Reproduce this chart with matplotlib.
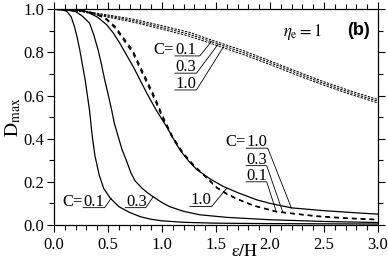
import numpy as np
import matplotlib
matplotlib.use("Agg")
import matplotlib.pyplot as plt
from matplotlib.ticker import MultipleLocator

plt.rcParams["font.family"] = ["Liberation Serif", "DejaVu Serif"]
plt.rcParams["mathtext.fontset"] = "stix"

# solid curves (lower family)
x_s01 = [0, 0.08, 0.12, 0.16, 0.19, 0.215, 0.24, 0.265, 0.29, 0.31, 0.33, 0.355, 0.38,
         0.42, 0.46, 0.52, 0.6, 0.7, 0.8, 0.9, 1.0, 1.2, 1.5, 2.0, 2.5, 3.0]
y_s01 = [1.0, 0.998, 0.99, 0.965, 0.92, 0.87, 0.81, 0.74, 0.67, 0.6, 0.53, 0.41, 0.32,
         0.23, 0.17, 0.125, 0.085, 0.058, 0.038, 0.026, 0.019, 0.012, 0.008, 0.006, 0.005, 0.004]

x_s03 = [0, 0.1, 0.2, 0.26, 0.33, 0.37, 0.41, 0.44, 0.47, 0.5, 0.534, 0.56, 0.595, 0.63,
         0.67, 0.71, 0.75, 0.82, 0.87, 0.92, 1.0, 1.07, 1.2, 1.35, 1.6, 2.0, 2.5, 3.0]
y_s03 = [1.0, 0.999, 0.99, 0.97, 0.936, 0.88, 0.81, 0.745, 0.673, 0.61, 0.534, 0.47, 0.41, 0.35,
         0.3, 0.245, 0.205, 0.168, 0.148, 0.13, 0.104, 0.085, 0.063, 0.047, 0.035, 0.024, 0.016, 0.011]

x_s10 = [0, 0.1, 0.2, 0.3, 0.4, 0.49, 0.55, 0.61, 0.67, 0.73, 0.8, 0.86, 0.95, 1.0, 1.05,
         1.1, 1.17, 1.25, 1.32, 1.45, 1.57, 1.7, 1.88, 2.0, 2.2, 2.5, 2.8, 3.0]
y_s10 = [1.0, 1.0, 0.998, 0.99, 0.965, 0.928, 0.89, 0.843, 0.79, 0.738, 0.67, 0.611, 0.53, 0.49, 0.45,
         0.405, 0.345, 0.295, 0.258, 0.212, 0.178, 0.15, 0.116, 0.1, 0.079, 0.066, 0.056, 0.05]

# dashed curves (lower family), C = 0.1, 0.3, 1.0
x_d = [0, 0.2, 0.3, 0.4, 0.49, 0.57, 0.64, 0.73, 0.8, 0.89, 0.95, 1.0, 1.1, 1.2, 1.3,
       1.43, 1.51, 1.61, 1.71, 1.85, 2.06, 2.2, 2.43, 2.7, 3.0]
y_d01 = [1.0, 0.998, 0.99, 0.975, 0.95, 0.91, 0.86, 0.797, 0.72, 0.626, 0.56, 0.5, 0.4, 0.325, 0.27,
         0.209, 0.17, 0.139, 0.116, 0.088, 0.06, 0.052, 0.039, 0.03, 0.023]
y_d03 = [1.0, 0.998, 0.991, 0.977, 0.953, 0.915, 0.866, 0.804, 0.728, 0.634, 0.568, 0.507, 0.405, 0.329, 0.273,
         0.211, 0.172, 0.141, 0.117, 0.089, 0.061, 0.053, 0.04, 0.031, 0.024]
y_d10 = [1.0, 0.999, 0.992, 0.979, 0.956, 0.92, 0.872, 0.811, 0.736, 0.642, 0.576, 0.514, 0.41, 0.333, 0.276,
         0.213, 0.174, 0.143, 0.119, 0.091, 0.063, 0.055, 0.042, 0.033, 0.026]

# upper dashed curves (eta_e = 1)
x_t = [0, 0.25, 0.5, 0.75, 1.0, 1.25, 1.5, 1.75, 2.0, 2.25, 2.5, 2.75, 3.0]
y_t01 = [1.0, 0.994, 0.974, 0.953, 0.924, 0.894, 0.851, 0.809, 0.761, 0.712, 0.664, 0.621, 0.582]
y_t03 = [1.0, 0.992, 0.969, 0.946, 0.916, 0.885, 0.843, 0.8, 0.753, 0.704, 0.656, 0.613, 0.574]
y_t10 = [1.0, 0.99, 0.964, 0.939, 0.908, 0.876, 0.834, 0.791, 0.744, 0.695, 0.648, 0.605, 0.566]

# labels: (prefix, number, underline x0, x1, y, leader target x, y)
labels = [
    ("C=", "0.1", 1.12, 1.35, 0.784, 1.46, 0.852),
    ("", "0.3", 1.12, 1.32, 0.704, 1.52, 0.838),
    ("", "1.0", 1.12, 1.32, 0.626, 1.57, 0.826),
    ("C=", "0.1", 0.27, 0.47, 0.080, 0.53, 0.124),
    ("", "0.3", 0.66, 0.85, 0.080, 0.92, 0.131),
    ("", "1.0", 1.26, 1.46, 0.085, 1.60, 0.170),
    ("C=", "1.0", 1.78, 1.98, 0.356, 2.20, 0.077),
    ("", "0.3", 1.78, 1.97, 0.275, 2.12, 0.058),
    ("", "0.1", 1.78, 1.97, 0.200, 2.06, 0.060),
]

fig = plt.figure(figsize=(3.88, 2.6), dpi=100)
ax = fig.add_axes([0.139, 0.135, 0.835, 0.829])

for xs, ys in [(x_s01, y_s01), (x_s03, y_s03), (x_s10, y_s10)]:
    ax.plot(xs, ys, color="black", linewidth=0.9)

for ys in [y_d01, y_d03, y_d10]:
    ax.plot(x_d, ys, color="black", linewidth=0.75, dashes=(4.5, 4))

for ys in [y_t01, y_t03, y_t10]:
    ax.plot(x_t, ys, color="black", linewidth=0.7, dashes=(2.5, 1.2))

for pre, num, x0, x1, y, tx, ty in labels:
    ax.plot([x0, x1, tx], [y, y, ty], color="black", linewidth=0.6)
    ax.annotate(num, xy=(x0, y), xytext=(0.5, 1.5), textcoords="offset points",
                ha="left", va="baseline", fontsize=12)
    if pre:
        ax.annotate(pre, xy=(x0, y), xytext=(-0.5, 1.5), textcoords="offset points",
                    ha="right", va="baseline", fontsize=12)

ax.text(2.3, 0.895, r"$\eta_{\rm e}=1$", ha="center", va="center", fontsize=12)
ax.text(2.82, 0.9, "(b)", ha="center", va="center", fontsize=13, fontweight="bold",
        family="Liberation Sans")

ax.set_xlim(0, 3.0)
ax.set_ylim(0, 1.0)
ax.xaxis.set_major_locator(MultipleLocator(0.5))
ax.xaxis.set_minor_locator(MultipleLocator(0.1))
ax.yaxis.set_major_locator(MultipleLocator(0.2))
ax.yaxis.set_minor_locator(MultipleLocator(0.1))
ax.xaxis.set_major_formatter(plt.FuncFormatter(lambda v, _: f"{v:.1f}"))
ax.yaxis.set_major_formatter(plt.FuncFormatter(lambda v, _: f"{v:.1f}"))
ax.tick_params(which="both", direction="out", top=True, right=True, width=0.8, labelsize=12)
ax.tick_params(which="major", length=5, pad=2)
ax.tick_params(which="minor", length=3.5)
ax.tick_params(axis="x", pad=4)
for s in ax.spines.values():
    s.set_linewidth(0.9)

ax.set_xlabel(r"$\mathrm{\varepsilon/H}$", fontsize=13)
ax.xaxis.set_label_coords(0.588, -0.082)
ax.set_ylabel(r"$\mathrm{D}_{\mathrm{max}}$", fontsize=14)
ax.yaxis.set_label_coords(-0.095, 0.5)

plt.savefig("out.png", dpi=100)
